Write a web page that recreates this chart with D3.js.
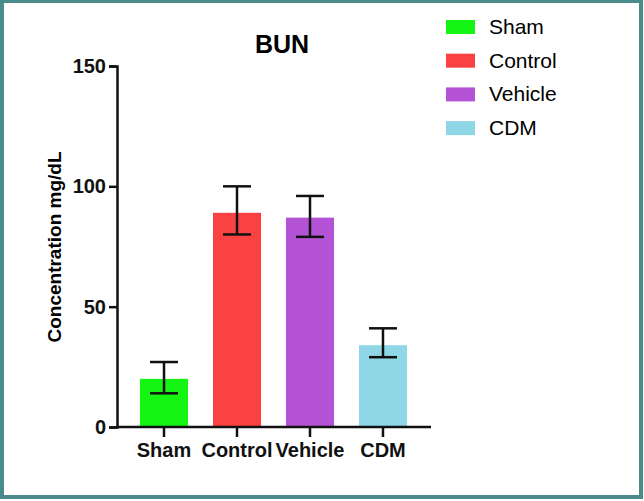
<!DOCTYPE html>
<html><head><meta charset="utf-8">
<script src="https://cdn.jsdelivr.net/npm/d3@7"></script>
<style>body{margin:0;background:#fff}</style>
</head><body>
<svg id="chart" width="644" height="501"></svg>
<script>
var groups = ['Sham', 'Control', 'Vehicle', 'CDM'];
var means = [20, 89, 87, 34];
var lows = [14, 80, 79, 29];
var highs = [27, 100, 96, 41];
var colors = ['#14f514', '#fa4242', '#b553d6', '#8fd6e6'];
var yTicks = [0, 50, 100, 150];

var svg = d3.select('#chart');
svg.append('rect').attr('x', 2).attr('y', 1).attr('width', 639).attr('height', 496)
  .attr('fill', 'none').attr('stroke', '#4a8c8c').attr('stroke-width', 4);

var y = d3.scaleLinear().domain([0, 150]).range([427, 66]);
var x = d3.scaleBand().domain(groups).range([140, 407]).paddingInner(0.342).paddingOuter(0);

var font = "'Liberation Sans Narrow', 'Liberation Sans', Arial, sans-serif";
var g = svg.append('g').style('font-family', font);

g.selectAll('rect.bar').data(groups).enter().append('rect')
  .attr('x', function (d) { return x(d); })
  .attr('y', function (d, i) { return y(means[i]); })
  .attr('width', x.bandwidth())
  .attr('height', function (d, i) { return y(0) - y(means[i]); })
  .attr('fill', function (d, i) { return colors[i]; });

var eb = g.selectAll('g.err').data(groups).enter().append('g')
  .attr('stroke', '#111').attr('stroke-width', 2.5);
eb.append('line').attr('x1', function (d) { return x(d) + x.bandwidth() / 2; })
  .attr('x2', function (d) { return x(d) + x.bandwidth() / 2; })
  .attr('y1', function (d, i) { return y(lows[i]); })
  .attr('y2', function (d, i) { return y(highs[i]); });
[lows, highs].forEach(function (arr) {
  eb.append('line').attr('x1', function (d) { return x(d) + x.bandwidth() / 2 - 14; })
    .attr('x2', function (d) { return x(d) + x.bandwidth() / 2 + 14; })
    .attr('y1', function (d, i) { return y(arr[i]); })
    .attr('y2', function (d, i) { return y(arr[i]); });
});

var yAxis = g.append('g').attr('transform', 'translate(117,0)')
  .call(d3.axisLeft(y).tickValues(yTicks).tickSize(8).tickPadding(3));
var xAxis = g.append('g').attr('transform', 'translate(0,427)')
  .call(d3.axisBottom(x).tickSize(10).tickPadding(6));
xAxis.select('.domain').attr('d', 'M117,0H431');
[yAxis, xAxis].forEach(function (a) {
  a.attr('font-family', font).attr('font-size', 20);
  a.selectAll('path,line').attr('stroke', '#111').attr('stroke-width', 2.5);
  a.selectAll('text').attr('fill', '#111').style('font-weight', 'bold');
});

g.append('text').attr('x', 282).attr('y', 53).attr('text-anchor', 'middle')
  .style('font-size', '25px').style('font-weight', 'bold').text('BUN');
g.append('text').attr('transform', 'translate(61,247) rotate(-90)').attr('text-anchor', 'middle')
  .style('font-family', "'Liberation Sans', Arial, sans-serif")
  .style('font-size', '19px').style('font-weight', 'bold').text('Concentration mg/dL');

var leg = g.selectAll('g.leg').data(groups).enter().append('g')
  .attr('transform', function (d, i) { return 'translate(446,' + (20 + i * 33.7) + ')'; });
leg.append('rect').attr('width', 29).attr('height', 14).attr('fill', function (d, i) { return colors[i]; });
leg.append('text').attr('x', 43).attr('y', 14).style('font-size', '21px').text(function (d) { return d; });
</script>
</body></html>
